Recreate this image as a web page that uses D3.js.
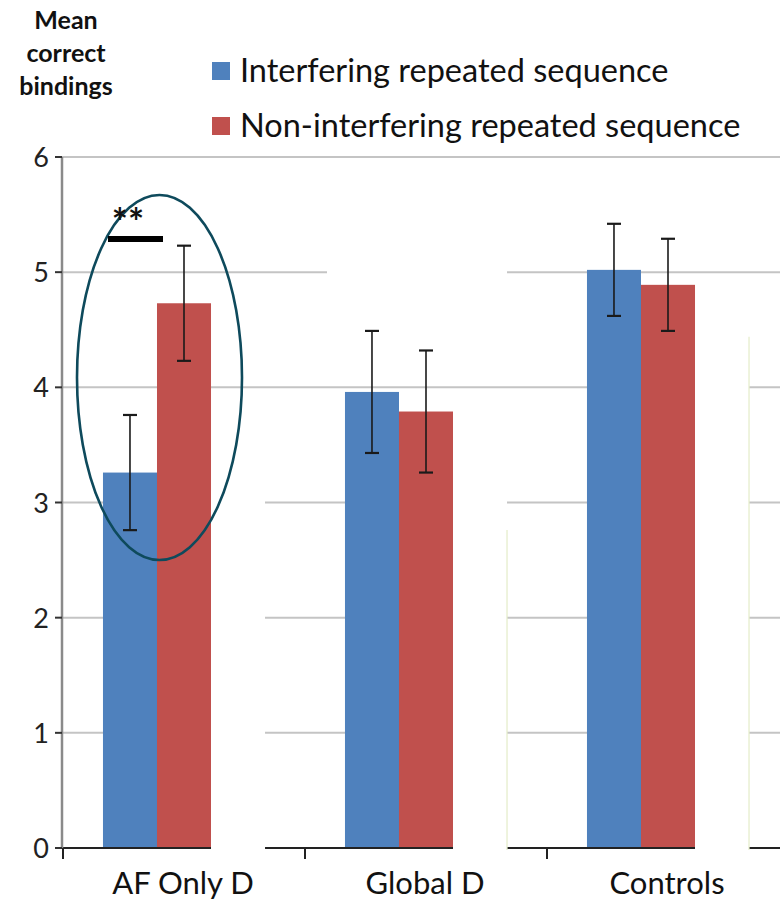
<!DOCTYPE html>
<html>
<head>
<meta charset="utf-8">
<script src="https://cdn.jsdelivr.net/npm/d3@7"></script>
<style>
  html, body { margin: 0; padding: 0; background: #fff; }
  svg { display: block; font-family: Lato, "Open Sans", sans-serif; }
</style>
</head>
<body>
<svg id="chart" width="780" height="901"></svg>
<script>
// Mean correct bindings per group, two sequence types

const categories = ['AF Only D', 'Global D', 'Controls'];
const seriesNames = ['Interfering repeated sequence', 'Non-interfering repeated sequence'];
const interfering = [3.26, 3.96, 5.02];
const interferingErr = [0.50, 0.53, 0.40];
const nonInterfering = [4.73, 3.79, 4.89];
const nonInterferingErr = [0.50, 0.53, 0.40];
// third (erased) series slot, blanked out from this value downwards
const erasedTop = [3.10, 3.93, 4.44];
const yTicks = [0, 1, 2, 3, 4, 5, 6];

const colors = ['#4f81bd', '#c0504d'];

const svg = d3.select('#chart');

const y = d3.scaleLinear().domain([0, 6]).range([848, 157]);
const x = d3.scaleBand().domain(categories).range([63, 789]);
const slot = d3.scaleBand().domain([0, 1, 2]).range([0, x.bandwidth()]).paddingOuter(0.74);

const series = [
  { name: seriesNames[0], values: interfering, err: interferingErr, color: colors[0] },
  { name: seriesNames[1], values: nonInterfering, err: nonInterferingErr, color: colors[1] }
];

// gridlines
svg.append('g').selectAll('line')
  .data(yTicks.filter(t => t > 0))
  .join('line')
  .attr('x1', 62).attr('x2', 780)
  .attr('y1', d => y(d)).attr('y2', d => y(d))
  .attr('stroke', '#c4c4c4').attr('stroke-width', 2);

// bars
series.forEach((s, si) => {
  svg.append('g').selectAll('rect')
    .data(categories)
    .join('rect')
    .attr('x', (c) => x(c) + slot(si))
    .attr('width', slot.bandwidth())
    .attr('y', (c, i) => y(s.values[i]))
    .attr('height', (c, i) => y(0) - y(s.values[i]))
    .attr('fill', s.color);
});

// x axis
const xAxis = svg.append('g');
xAxis.append('line')
  .attr('x1', 62).attr('x2', 780)
  .attr('y1', y(0)).attr('y2', y(0))
  .attr('stroke', '#222').attr('stroke-width', 2);
xAxis.selectAll('line.tick')
  .data(categories)
  .join('line')
  .attr('class', 'tick')
  .attr('x1', c => x(c)).attr('x2', c => x(c))
  .attr('y1', y(0)).attr('y2', y(0) + 11)
  .attr('stroke', '#222').attr('stroke-width', 2);
xAxis.selectAll('text')
  .data(categories)
  .join('text')
  .attr('x', c => x(c) + x.bandwidth() / 2 - 1)
  .attr('y', 894)
  .attr('text-anchor', 'middle')
  .attr('font-size', 31)
  .attr('fill', '#111')
  .text(c => c);

// blanked third-series slot
const masks = svg.append('g');
masks.selectAll('rect')
  .data(categories)
  .join('rect')
  .attr('x', c => x(c) + slot(2))
  .attr('width', slot.bandwidth())
  .attr('y', (c, i) => y(erasedTop[i]))
  .attr('height', (c, i) => y(0) - y(erasedTop[i]) + 6)
  .attr('fill', '#fff');
masks.selectAll('line')
  .data(categories.slice(1))
  .join('line')
  .attr('x1', c => x(c) + slot(2) + slot.bandwidth())
  .attr('x2', c => x(c) + slot(2) + slot.bandwidth())
  .attr('y1', (c, i) => i === 0 ? 530 : y(erasedTop[i + 1]))
  .attr('y2', y(0) + 2)
  .attr('stroke', '#e4ecc8').attr('stroke-width', 1.2);
masks.append('rect')
  .attr('x', x('Global D') + 22)
  .attr('width', slot(2) + slot.bandwidth() - 22)
  .attr('y', y(5) - 5).attr('height', 10)
  .attr('fill', '#fff');

// error bars
series.forEach((s, si) => {
  const g = svg.append('g').attr('stroke', '#1a1a1a').attr('stroke-width', 1.6);
  categories.forEach((c, i) => {
    const cx = x(c) + slot(si) + slot.bandwidth() / 2;
    const hi = y(s.values[i] + s.err[i]);
    const lo = y(s.values[i] - s.err[i]);
    g.append('line').attr('x1', cx).attr('x2', cx).attr('y1', hi).attr('y2', lo);
    g.append('line').attr('x1', cx - 7).attr('x2', cx + 7).attr('y1', hi).attr('y2', hi).attr('stroke-width', 2.2);
    g.append('line').attr('x1', cx - 7).attr('x2', cx + 7).attr('y1', lo).attr('y2', lo).attr('stroke-width', 2.2);
  });
});

// y axis
const yAxis = svg.append('g');
yAxis.append('line')
  .attr('x1', 62).attr('x2', 62)
  .attr('y1', y(6)).attr('y2', y(0))
  .attr('stroke', '#8a8a8a').attr('stroke-width', 2.5);
yAxis.selectAll('line.tick')
  .data(yTicks)
  .join('line')
  .attr('class', 'tick')
  .attr('x1', 55).attr('x2', 62)
  .attr('y1', d => y(d)).attr('y2', d => y(d))
  .attr('stroke', '#333').attr('stroke-width', 2);
yAxis.selectAll('text')
  .data(yTicks)
  .join('text')
  .attr('x', 49)
  .attr('y', d => y(d) + 10)
  .attr('text-anchor', 'end')
  .attr('font-size', 27)
  .attr('fill', '#222')
  .text(d => d);

// y title
svg.append('text')
  .attr('text-anchor', 'middle')
  .attr('font-size', 25)
  .attr('font-weight', 'bold')
  .attr('fill', '#111')
  .selectAll('tspan')
  .data(['Mean', 'correct', 'bindings'])
  .join('tspan')
  .attr('x', 66)
  .attr('y', (d, i) => 29 + i * 33)
  .text(d => d);

// legend
const legend = svg.append('g');
series.forEach((s, i) => {
  legend.append('rect')
    .attr('x', 212).attr('y', 62 + i * 55)
    .attr('width', 18).attr('height', 18)
    .attr('fill', s.color);
  legend.append('text')
    .attr('x', 240).attr('y', 82 + i * 55)
    .attr('font-size', 32.5)
    .attr('fill', '#111')
    .text(s.name);
});

// significance annotation
svg.append('ellipse')
  .attr('cx', 159.5).attr('cy', 377.5)
  .attr('rx', 82.5).attr('ry', 182.5)
  .attr('fill', 'none')
  .attr('stroke', '#0e4a5c').attr('stroke-width', 2.6);
svg.append('rect')
  .attr('x', 108).attr('y', 236)
  .attr('width', 55).attr('height', 6)
  .attr('fill', '#000');
svg.append('text')
  .attr('x', 128).attr('y', 236)
  .attr('text-anchor', 'middle')
  .attr('font-size', 38)
  .attr('font-weight', 'bold')
  .attr('fill', '#111')
  .text('**');
</script>
</body>
</html>
